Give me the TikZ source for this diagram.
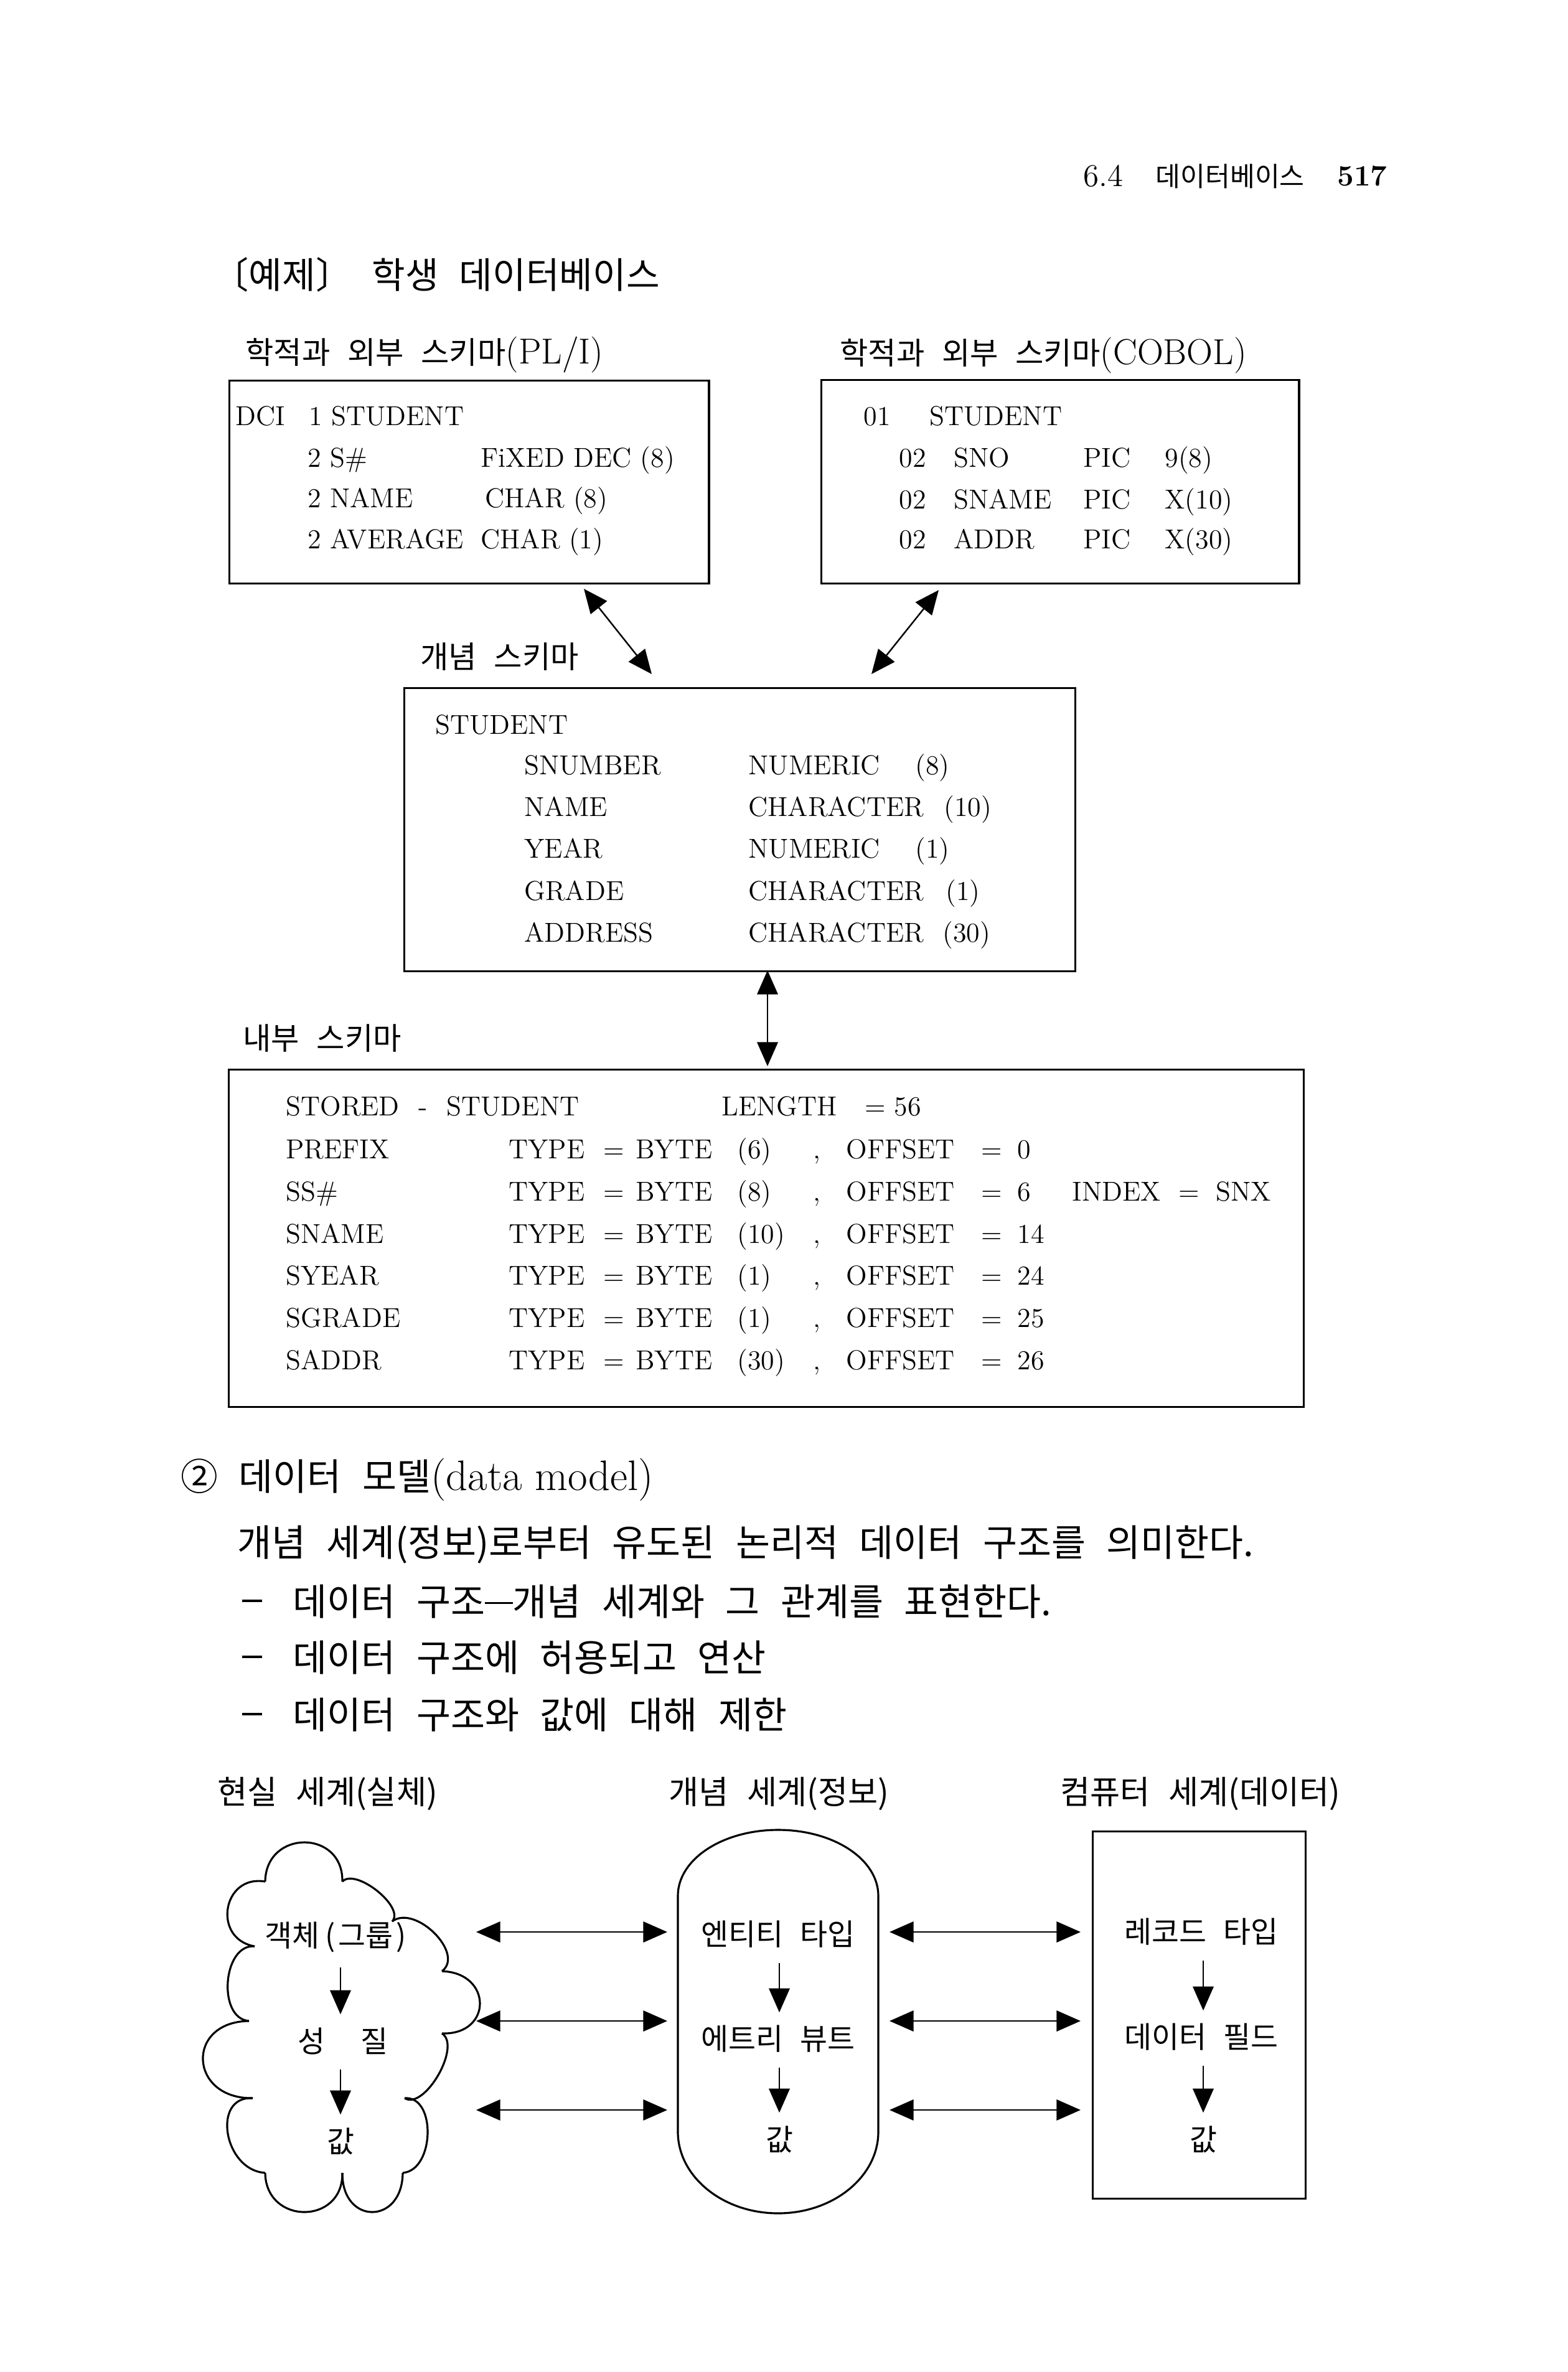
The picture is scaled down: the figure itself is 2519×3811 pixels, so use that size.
\documentclass[tikz,border=0pt]{standalone}
\usepackage{fontspec}
\usepackage{tikz}
\usetikzlibrary{arrows.meta,calc,positioning}
\newfontfamily\kr{Noto Sans CJK KR}[Scale=0.85,WordSpace=2.5]

\tikzset{
  link/.style={<->,line width=0.7pt},
  down/.style={->,line width=0.7pt,shorten <=6pt,shorten >=5pt},
  frame/.style={draw,line width=0.9pt,anchor=north west},
  outline/.style={line width=0.9pt},
  code/.style={anchor=base west,font=\fontsize{12.5}{15}\selectfont},
  lbl/.style={anchor=west,font=\fontsize{16.5}{19}\selectfont\kr},
  body/.style={anchor=west,font=\fontsize{20}{24}\selectfont\kr},
  word/.style={font=\fontsize{16}{19}\selectfont\kr}
}

\begin{document}
\begin{tikzpicture}[x=0.01cm,y=-0.01cm,every node/.style={inner sep=0,outer sep=1},
    >={Triangle[length=11pt,width=9.5pt]}]
    \fill[white] (0,0) rectangle (2519,3811);
    \useasboundingbox (0,0) rectangle (2519,3811);

    \node[anchor=west,font=\fontsize{14.5}{17}\selectfont] (hsec) at (1737,283) {6.4};
    \node[anchor=west,font=\fontsize{14.5}{17}\selectfont\kr] (hname) at (1853,283) {데이터베이스};
    \node[anchor=east,font=\fontsize{13.5}{16}\selectfont\bfseries] (hpage) at (2232,283) {517};
    \node[anchor=west,font=\fontsize{19.5}{23}\selectfont\kr] (title) at (338,441) {〔예제〕 학생 데이터베이스};

    \node[lbl] (lblpl) at (391,570) {학적과 외부 스키마{\rmfamily(PL/I)}};
    \node[lbl] (lblcob) at (1346,571) {학적과 외부 스키마{\rmfamily(COBOL)}};
    \node[frame,minimum width=7.7cm,minimum height=3.26cm] (plbox) at (365,608) {};
    \node[frame,minimum width=7.67cm,minimum height=3.27cm] (cobbox) at (1316,607) {};

    \node[code] (pldcl) at (375,683) {DCI};
    \node[code] (plrec) at (493,683) {1 STUDENT};
    \foreach \y/\f/\x/\t [count=\i] in {750/2 S\#/769/FiXED DEC (8), 815/2 NAME/776/CHAR (8), 881/2 AVERAGE/769/CHAR (1)}{
        \node[code] (plf\i) at (491,\y) {\f};
        \node[code] (plt\i) at (\x,\y) {\t};
    }

    \node[code] (cblv) at (1384,683) {01};
    \node[code] (cbrec) at (1490,683) {STUDENT};
    \foreach \y/\f/\p [count=\i] in {750/SNO/9(8), 817/SNAME/X(10), 881/ADDR/X(30)}{
        \node[code] (cbl\i) at (1441,\y) {02};
        \node[code] (cbf\i) at (1529,\y) {\f};
        \node[code] (cbp\i) at (1737,\y) {PIC};
        \node[code] (cbt\i) at (1868,\y) {\p};
    }

    \node[lbl] (lblcon) at (672,1055) {개념 스키마};
    \node[frame,minimum width=10.77cm,minimum height=4.55cm] (conbox) at (646,1102) {};
    \node[code] (conrec) at (696,1179) {STUDENT};
    \foreach \y/\f/\t/\x/\s [count=\i] in {1244/SNUMBER/NUMERIC/1467/(8), 1311/NAME/CHARACTER/1513/(10), 1378/YEAR/NUMERIC/1467/(1), 1446/GRADE/CHARACTER/1516/(1), 1513/ADDRESS/CHARACTER/1511/(30)}{
        \node[code] (conf\i) at (839,\y) {\f};
        \node[code] (cont\i) at (1199,\y) {\t};
        \node[code] (cons\i) at (\x,\y) {\s};
    }

    \coordinate (pltip) at (938,946);
    \coordinate (conpl) at (1047,1083);
    \coordinate (cobtip) at (1508,948);
    \coordinate (concob) at (1400,1083);
    \draw[link] (pltip) -- (conpl);
    \draw[link] (cobtip) -- (concob);

    \node[lbl] (lblint) at (387,1668) {내부 스키마};
    \node[frame,minimum width=17.26cm,minimum height=5.42cm] (intbox) at (364,1715) {};
    \coordinate (conbot) at (1233,1559);
    \coordinate (inttop) at (1233,1713);
    \draw[link] (conbot) -- (inttop);

    \node[code] (intrec) at (456,1792) {STORED\hspace{0.7em}-\hspace{0.7em}STUDENT};
    \node[code] (intlen) at (1156,1792) {LENGTH\quad= 56};
    \foreach \y/\f/\s/\o [count=\i] in {1861/PREFIX/(6)/0, 1929/SS\#/(8)/6, 1997/SNAME/(10)/14, 2064/SYEAR/(1)/24, 2132/SGRADE/(1)/25, 2200/SADDR/(30)/26}{
        \node[code] (intf\i) at (456,\y) {\f};
        \node[code] (intty\i) at (814,\y) {TYPE};
        \node[code] (inteqa\i) at (966,\y) {=};
        \node[code] (intby\i) at (1018,\y) {BYTE};
        \node[code] (intsz\i) at (1181,\y) {\s};
        \node[code] (intcm\i) at (1303,\y) {,};
        \node[code] (intof\i) at (1356,\y) {OFFSET};
        \node[code] (inteqb\i) at (1573,\y) {=};
        \node[code] (intov\i) at (1631,\y) {\o};
    }
    \node[code] (intix) at (1719,1929) {INDEX};
    \node[code] (intixeq) at (1890,1929) {=};
    \node[code] (intixv) at (1950,1929) {SNX};

    \node[body] (model) at (287,2377) {② 데이터 모델{\rmfamily\fontsize{19.5}{23}\selectfont(data model)}};
    \node[body] (desc) at (378,2482) {개념 세계(정보)로부터 유도된 논리적 데이터 구조를 의미한다.};
    \foreach \y/\t [count=\i] in {2573/{데이터 구조\rule[0.3em]{0.75em}{0.065em}개념 세계와 그 관계를 표현한다.}, 2663/데이터 구조에 허용되고 연산, 2755/데이터 구조와 값에 대해 제한}{
        \node[body] (dash\i) at (385,\y+8) {\rule[0.3em]{0.55em}{0.065em}};
        \node[body] (item\i) at (467,\y) {\t};
    }

    \node[word,anchor=west,font=\fontsize{17.5}{21}\selectfont\kr] (lblreal) at (346,2882) {현실 세계(실체)};
    \node[word,anchor=west,font=\fontsize{17.5}{21}\selectfont\kr] (lblconc) at (1071,2882) {개념 세계(정보)};
    \node[word,anchor=west,font=\fontsize{17.5}{21}\selectfont\kr] (lblcomp) at (1700,2882) {컴퓨터 세계(데이터)};

    \foreach \n/\x/\y in {k1/426/3023, t1/489/2960, k2/550/3023, t2/606/3038, k3/630/3087, t3/698/3106, k4/710/3167, t4/771/3219, k5/710/3267, t5/704/3334, k6/650/3371, t6/687/3428, k7/647/3491, t7/598/3554, k8/550/3491, t8/489/3554, k9/426/3491, t9/366/3428, k10/406/3371, t10/326/3310, k11/400/3247, t11/366/3184, k12/409/3127, t12/366/3066}
        \coordinate (\n) at (\x,\y);
    \foreach \a/\m/\b in {k1/t1/k2, k2/t2/k3, k3/t3/k4, k4/t4/k5, k5/t5/k6, k6/t6/k7, k7/t7/k8, k8/t8/k9, k9/t9/k10, k10/t10/k11, k11/t11/k12, k12/t12/k1}
        \draw[outline] (\a) .. controls ($1/3*(\a)-2/3*(\b)+4/3*(\m)$) and ($1/3*(\b)-2/3*(\a)+4/3*(\m)$) .. (\b);

    \draw[outline] (1089,3046) .. controls (1089,2987) and (1161,2940) .. (1250,2940)
        .. controls (1339,2940) and (1411,2987) .. (1411,3046) -- (1411,3425)
        .. controls (1411,3497) and (1339,3556) .. (1250,3556)
        .. controls (1161,3556) and (1089,3497) .. (1089,3425) -- cycle;
    \node[frame,minimum width=3.42cm,minimum height=5.9cm] (compbox) at (1752,2939) {};

    \node[word] (obj) at (539,3112) {객체\hspace{0.2em}(\hspace{0.1em}그룹\hspace{0.1em})};
    \node[word] (prop) at (551,3279) {성\hspace{1.2em}질};
    \node[word] (val) at (547,3440) {값};
    \node[word] (ent) at (1250,3108) {엔티티 타입};
    \node[word] (attr) at (1250,3276) {에트리 뷰트};
    \node[word] (cval) at (1252,3437) {값};
    \node[word] (rec) at (1930,3104) {레코드 타입};
    \node[word] (fld) at (1930,3273) {데이터 필드};
    \node[word] (dval) at (1933,3437) {값};

    \draw[down] (obj.south -| val) -- (prop.north -| val);
    \draw[down] (prop.south -| val) -- (val);
    \draw[down] (ent.south -| cval) -- (attr.north -| cval);
    \draw[down] (attr.south -| cval) -- (cval);
    \draw[down] (rec.south -| dval) -- (fld.north -| dval);
    \draw[down] (fld.south -| dval) -- (dval);

    \foreach \y [count=\i] in {3104,3247,3390}{
        \coordinate (cl\i) at (765,\y);
        \coordinate (cr\i) at (1072,\y);
        \coordinate (dl\i) at (1429,\y);
        \coordinate (dr\i) at (1736,\y);
        \draw[link] (cl\i) -- (cr\i);
        \draw[link] (dl\i) -- (dr\i);
    }
\end{tikzpicture}
\end{document}
